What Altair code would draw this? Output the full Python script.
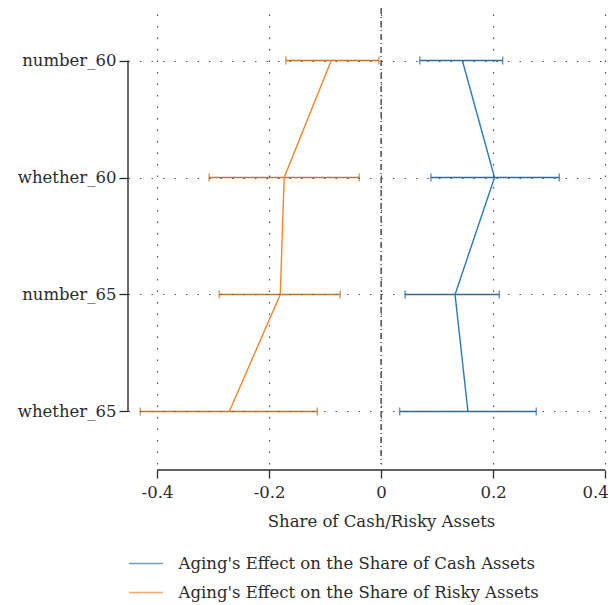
import altair as alt
import pandas as pd

categories = ["number_60", "whether_60", "number_65", "whether_65"]
series = ["Aging's Effect on the Share of Cash Assets",
          "Aging's Effect on the Share of Risky Assets"]

cash_est = [0.145, 0.2025, 0.132, 0.155]
cash_lo = [0.069, 0.089, 0.043, 0.033]
cash_hi = [0.217, 0.318, 0.211, 0.277]

risky_est = [-0.089, -0.173, -0.180, -0.271]
risky_lo = [-0.170, -0.307, -0.289, -0.430]
risky_hi = [-0.004, -0.039, -0.073, -0.114]

x_ticks = [-0.4, -0.2, 0, 0.2, 0.4]

line_colors = ["#2a7ab8", "#f4862a"]
bar_colors = ["#2d6b9c", "#c8752f"]

rows = []
for s_i, (est, lo, hi) in enumerate([(cash_est, cash_lo, cash_hi),
                                     (risky_est, risky_lo, risky_hi)]):
    for c_i, cat in enumerate(categories):
        rows.append({"cat": cat, "rank": c_i, "series": series[s_i],
                     "est": est[c_i], "lo": lo[c_i], "hi": hi[c_i],
                     "barcolor": bar_colors[s_i]})
df = pd.DataFrame(rows)

ends = df.melt(id_vars=["cat", "series", "barcolor"], value_vars=["lo", "hi"],
               var_name="end", value_name="xv")

FONT = "DejaVu Serif"
TXT = "#2b2b2b"
W, H = 480, 456

xscale = alt.Scale(domain=[-0.4518, 0.405], nice=False, zero=False)
yscale = alt.Scale(type="point", domain=categories, padding=0.449)

xaxis = alt.Axis(values=x_ticks,
                 labelExpr="toString(datum.value)",
                 labelAlign=alt.condition("datum.value >= 0.4",
                                          alt.value("right"),
                                          alt.value("center")),
                 labelOffset=alt.condition("datum.value >= 0.4",
                                           alt.value(3), alt.value(0)),
                 title="Share of Cash/Risky Assets",
                 grid=True, gridDash=[1.5, 10], gridColor="#555", gridWidth=1.2,
                 domain=False, ticks=True, tickSize=8, tickColor=TXT, tickWidth=1.3,
                 offset=6, labelFont=FONT, labelFontSize=16.5, labelColor=TXT,
                 labelPadding=6, titleFont=FONT, titleFontSize=16.5,
                 titleFontWeight="normal", titleColor=TXT, titlePadding=13,
                 titleX=253, titleAlign="center", zindex=1)
yaxis = alt.Axis(title=None, grid=True, gridDash=[1.5, 10], gridColor="#555",
                 gridWidth=1.2, domain=False, ticks=True, tickSize=9,
                 tickColor=TXT, tickWidth=1.3, labelFont=FONT, labelFontSize=16.5,
                 labelColor=TXT, labelPadding=3, zindex=1)

base = alt.Chart(df)

bars = base.mark_rule(strokeWidth=1.6).encode(
    x=alt.X("lo:Q", scale=xscale, axis=xaxis),
    x2="hi:Q",
    y=alt.Y("cat:N", scale=yscale, axis=yaxis, sort=categories),
    color=alt.Color("barcolor:N", scale=None),
)

caps = alt.Chart(ends).mark_tick(size=8, thickness=1.5).encode(
    x=alt.X("xv:Q", scale=xscale),
    y=alt.Y("cat:N", scale=yscale, sort=categories),
    color=alt.Color("barcolor:N", scale=None),
)

lines = base.mark_line(strokeWidth=1.4).encode(
    x=alt.X("est:Q", scale=xscale),
    y=alt.Y("cat:N", scale=yscale, sort=categories),
    order="rank:Q",
    color=alt.Color("series:N",
                    scale=alt.Scale(domain=series, range=line_colors),
                    legend=alt.Legend(title=None, orient="none", legendX=8.5,
                                      legendY=546, symbolType="M-2,0H2",
                                      symbolSize=289, symbolStrokeWidth=1.4,
                                      labelFont=FONT, labelFontSize=16.5,
                                      labelColor=TXT, labelOffset=23,
                                      rowPadding=11, labelLimit=500)),
)

zero_df = pd.DataFrame({"z": [0.0]})
zero = alt.Chart(zero_df).mark_rule(color="#222", strokeWidth=1.2,
                                    strokeDash=[6, 3, 1, 3]).encode(
    x=alt.X("z:Q", scale=xscale))

yline_df = pd.DataFrame({"a": [categories[0]], "b": [categories[-1]]})
yline = alt.Chart(yline_df).mark_rule(color=TXT, strokeWidth=1.4).encode(
    y=alt.Y("a:N", scale=yscale, sort=categories),
    y2="b:N",
    x=alt.value(0),
)

xline_df = pd.DataFrame({"a": [x_ticks[0]], "b": [x_ticks[-1]]})
xline = alt.Chart(xline_df).mark_rule(color=TXT, strokeWidth=1.4).encode(
    x=alt.X("a:Q", scale=xscale),
    x2="b:Q",
    y=alt.value(H + 6),
)

chart = alt.layer(zero, bars, caps, lines, yline, xline).properties(
    width=W, height=H,
    background="white",
    autosize=alt.AutoSizeParams(type="none"),
    padding={"left": 120, "top": 0, "right": 0, "bottom": 141},
).configure_view(stroke=None)

chart.save("out.html", embed_options={"renderer": "svg", "actions": False})
